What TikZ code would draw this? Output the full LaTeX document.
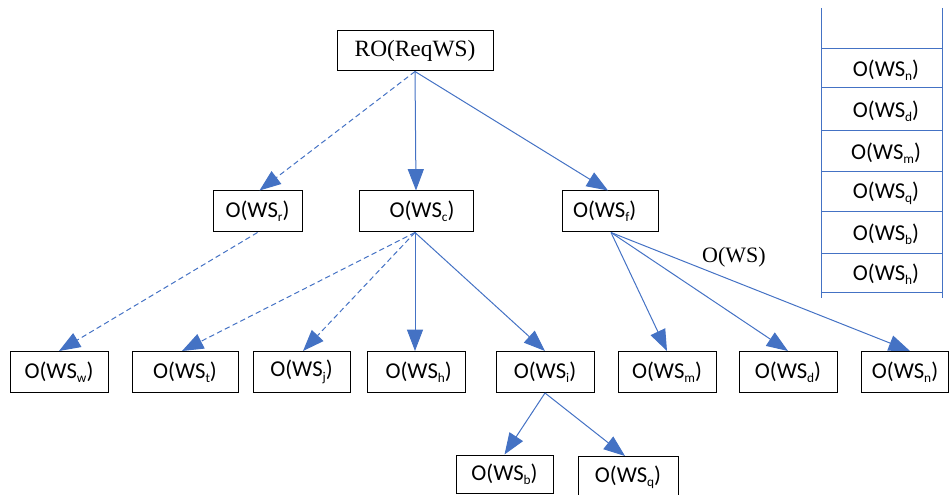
\documentclass[tikz,border=0pt]{standalone}
\usepackage{fontspec}
\setmainfont{Carlito}
\newfontfamily\tms{Liberation Serif}
\usetikzlibrary{arrows.meta,calc}
\definecolor{lnblue}{HTML}{4472C4}
\newcommand\sbs[1]{\raisebox{-0.4ex}{\fontsize{10pt}{10pt}\selectfont #1}}
\newcommand\ows[1]{O(WS\sbs{#1})}
\tikzset{
  box/.style={draw=black, line width=0.75pt, inner sep=0pt, minimum height=30.75pt,
    font=\fontsize{17pt}{19pt}\selectfont},
  arr/.style={draw=lnblue, line width=0.75pt, -{Triangle[length=16pt,width=12pt]}},
  darr/.style={arr, dash pattern=on 4pt off 2.5pt},
  cellline/.style={draw=lnblue, line width=0.75pt},
  cell/.style={inner sep=0pt, font=\fontsize{17pt}{19pt}\selectfont}
}
\begin{document}
\begin{tikzpicture}[x=0.75pt,y=-0.75pt]
\useasboundingbox (0,0) rectangle (950,495);

% root
\node[box, minimum width=117pt, minimum height=30pt, font=\tms\fontsize{17.5pt}{19pt}\selectfont] (ro) at (415,51) {RO(ReqWS)};

% first level
\node[box, minimum width=66.75pt] (r) at (257.5,211.5) {\ows{r}};
\node[box, minimum width=85.5pt] (c) at (416,211.5) {\hspace*{9pt}\ows{c}};
\node[box, minimum width=72pt] (f) at (610,211.5) {\ows{f}\hspace*{8pt}};

% second level
\node[box, minimum width=73.5pt] (w) at (59,372) {\ows{w}};
\node[box, minimum width=79.5pt] (t) at (185,372) {\ows{t}};
\node[box, minimum width=72.75pt] (j) at (301.5,372) {\ows{j}};
\node[box, minimum width=73.5pt] (h) at (416,372) {\hspace*{4pt}\ows{h}};
\node[box, minimum width=73.5pt] (i) at (545,372) {\ows{i}};
\node[box, minimum width=73.5pt] (m) at (667,372) {\ows{m}};
\node[box, minimum width=73.5pt] (d) at (788,372) {\ows{d}};
\node[box, minimum width=65.25pt] (n) at (905,372) {\ows{n}};

% third level
\node[box, minimum width=72.75pt, minimum height=28.5pt] (b) at (504.5,474) {\ows{b}};
\node[box, minimum width=75pt] (q) at (628,477) {\ows{q}};

% edges
\draw[darr] (ro.south) -- ($(r.north)+(2,0)$);
\draw[arr]  (ro.south) -- (c.north);
\draw[arr]  (ro.south) -- ($(f.north)+(-2,0)$);

\draw[darr] (r.south) -- (w.north);
\draw[darr] ($(c.south)+(-1,0)$) -- ($(t.north)+(-3,0)$);
\draw[darr] ($(c.south)+(-1,0)$) -- ($(j.north)+(1.5,0)$);
\draw[arr]  ($(c.south)+(-1,0)$) -- ($(h.north)+(-1,0)$);
\draw[arr]  ($(c.south)+(-1,0)$) -- (i.north);

\draw[arr] ($(f.south)+(1,0)$) -- (m.north);
\draw[arr] ($(f.south)+(1,0)$) -- (d.north);
\draw[arr] ($(f.south)+(1,0)$) -- ($(n.north)+(5,0)$);

\draw[arr] (i.south) -- (b.north);
\draw[arr] (i.south) -- ($(q.north)+(-3,0)$);

\node[font=\tms\fontsize{16.5pt}{18pt}\selectfont, inner sep=0pt] (lbl) at (734,257) {O(WS)};

% stack on the right
\coordinate (stl) at (821,8);
\coordinate (str) at (942,8);
\draw[cellline] (stl) -- (821,298);
\draw[cellline] (str) -- (942,298);
\foreach \yy in {49,88,131,172,212,254,293}
  \draw[cellline] (821,\yy) -- (942,\yy);
\node[cell] (s1) at (886,70)  {\ows{n}};
\node[cell] (s2) at (886,111) {\ows{d}};
\node[cell] (s3) at (886,153) {\ows{m}};
\node[cell] (s4) at (886,193) {\ows{q}};
\node[cell] (s5) at (886,234) {\ows{b}};
\node[cell] (s6) at (886,274) {\ows{h}};
\end{tikzpicture}
\end{document}
